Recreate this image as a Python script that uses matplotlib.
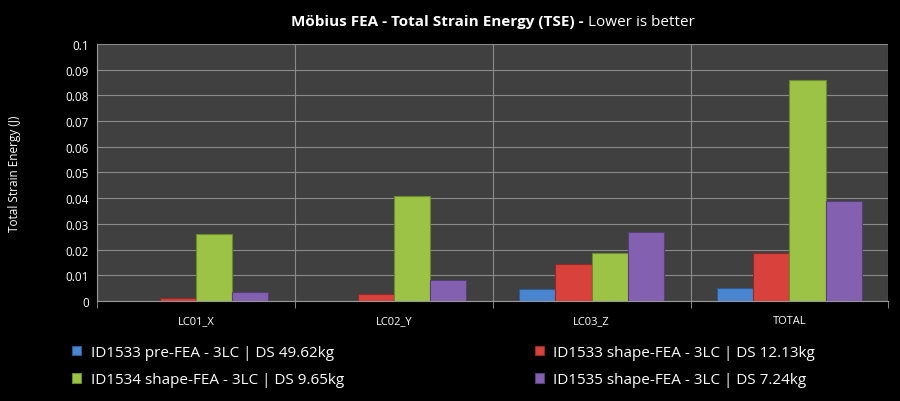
import matplotlib.pyplot as plt
import numpy as np

categories = ['LC01_X', 'LC02_Y', 'LC03_Z', 'TOTAL']
series_names = ['ID1533 pre-FEA - 3LC | DS 49.62kg',
                'ID1533 shape-FEA - 3LC | DS 12.13kg',
                'ID1534 shape-FEA - 3LC | DS 9.65kg',
                'ID1535 shape-FEA - 3LC | DS 7.24kg']
pre_1533 = [0.0, 0.0, 0.0045, 0.005]
shape_1533 = [0.001, 0.0025, 0.0145, 0.0185]
shape_1534 = [0.026, 0.041, 0.0185, 0.086]
shape_1535 = [0.0035, 0.008, 0.027, 0.039]
y_ticks = [0, 0.01, 0.02, 0.03, 0.04, 0.05, 0.06, 0.07, 0.08, 0.09, 0.1]

colors = ['#4a86d0', '#d8413c', '#9cc346', '#8461b0']
edges = ['#2c5a94', '#8e2a27', '#6a8a2c', '#563f78']

plt.rcParams['font.family'] = ['Open Sans', 'DejaVu Sans']

fig = plt.figure(figsize=(9, 4.02), dpi=100, facecolor='black')
ax = fig.add_axes([0.108, 0.249, 0.879, 0.639])
ax.set_facecolor('#404040')

x = np.arange(len(categories))
w = 0.183
all_series = [pre_1533, shape_1533, shape_1534, shape_1535]
handles = []
for i, vals in enumerate(all_series):
    pos = x + (i - 1.5) * w
    b = ax.bar(pos, vals, width=w, color=colors[i], edgecolor=edges[i],
               linewidth=0.8, label=series_names[i], zorder=3)
    handles.append(b)

ax.set_xlim(-0.5, len(categories) - 0.5)
ax.set_ylim(0, 0.1)
ax.set_yticks(y_ticks)
ax.set_yticklabels([f'{t:g}' for t in y_ticks])
ax.set_xticks(x)
ax.set_xticklabels(categories)
ax.set_xticks(np.arange(len(categories) + 1) - 0.5, minor=True)

ax.grid(axis='y', color='#8a8a8a', linewidth=0.8, zorder=0)
ax.grid(axis='x', which='minor', color='#8a8a8a', linewidth=0.8, zorder=0)
ax.tick_params(axis='x', which='major', length=0, colors='white', labelsize=8, pad=10)
ax.tick_params(axis='x', which='minor', length=5, color='#999999')
ax.tick_params(axis='y', length=0, colors='white', labelsize=8.5, pad=6)
for s in ['top', 'right']:
    ax.spines[s].set_visible(False)
ax.spines['bottom'].set_color('#999999')
ax.spines['left'].set_color('#999999')

ax.set_ylabel('Total Strain Energy (J)', color='white', fontsize=8.5, labelpad=32)

# legend reads row by row in the reference, so reorder for ncol=2
order = [0, 2, 1, 3]
fig.legend(handles=[handles[i] for i in order],
           labels=[series_names[i] for i in order], ncol=2, loc='lower left',
           bbox_to_anchor=(0.065, 0.0), frameon=False, fontsize=11,
           labelcolor='white', handlelength=0.6, handleheight=0.6,
           columnspacing=12.5, handletextpad=0.6, labelspacing=0.8)

t1 = fig.text(0.5, 0.945, 'Möbius FEA - Total Strain Energy (TSE) - ', color='white',
              fontsize=11, fontweight='bold', ha='right', va='center')
fig.canvas.draw()
bb = t1.get_window_extent()
w1 = bb.width / fig.bbox.width
t2 = fig.text(0.5, 0.945, 'Lower is better', color='white', fontsize=11,
              ha='left', va='center')
bb2 = t2.get_window_extent()
w2 = bb2.width / fig.bbox.width
start = 0.548 - (w1 + w2) / 2
t1.set_x(start + w1)
t2.set_x(start + w1)

fig.savefig('out.png', dpi=100, facecolor='black')
